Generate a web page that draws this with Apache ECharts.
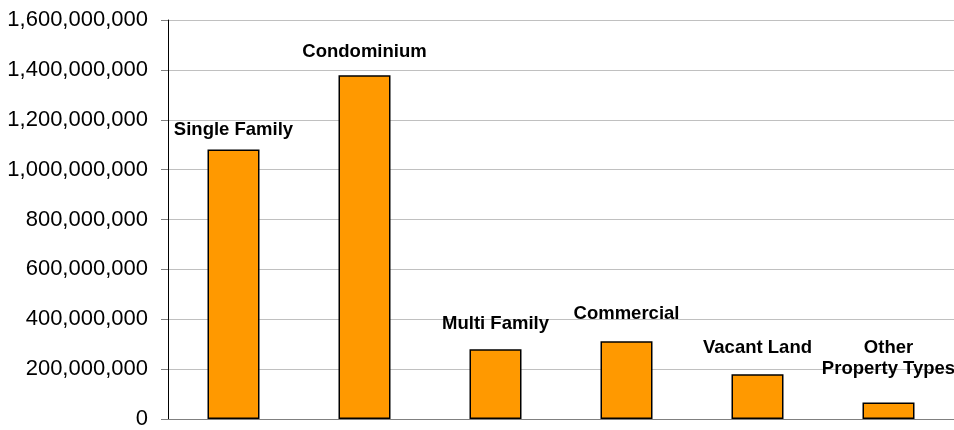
<!DOCTYPE html>
<html>
<head>
<meta charset="utf-8">
<script src="https://cdn.jsdelivr.net/npm/echarts@6/dist/echarts.min.js"></script>
<style>html,body{margin:0;padding:0;background:#fff;overflow:hidden}#c{width:954px;height:430px}</style>
</head>
<body>
<div id="c"></div>
<script>
const categories = ['Single Family', 'Condominium', 'Multi Family', 'Commercial', 'Vacant Land', 'Other\nProperty Types'];
const values = [1081000000, 1378000000, 280000000, 312000000, 179000000, 66000000];
const yTicks = { min: 0, max: 1600000000, interval: 200000000 };

const labelGap = [9, 13, 15, 17, 16, 23];

const chart = echarts.init(document.getElementById('c'), null, { renderer: 'canvas', width: 954, height: 430 });
chart.setOption({
  animation: false,
  backgroundColor: '#ffffff',
  grid: { left: 168, right: 0, top: 20, bottom: 7, containLabel: false },
  xAxis: {
    type: 'category',
    data: categories,
    axisLine: { show: true, lineStyle: { color: '#808080', width: 1 } },
    axisTick: { show: false },
    axisLabel: { show: false },
    splitLine: { show: false }
  },
  yAxis: {
    type: 'value',
    min: yTicks.min,
    max: yTicks.max,
    interval: yTicks.interval,
    axisLine: { show: true, lineStyle: { color: '#000000', width: 1 } },
    axisTick: { show: true, inside: false, length: 7, lineStyle: { color: '#808080' } },
    axisLabel: {
      margin: 20,
      color: '#000000',
      fontFamily: 'Liberation Sans, Arial, sans-serif',
      fontSize: 22,
      formatter: v => v.toLocaleString('en-US')
    },
    splitLine: { show: true, lineStyle: { color: '#c0c0c0', width: 1 } }
  },
  series: [{
    type: 'bar',
    barWidth: 52,
    data: values.map((v, i) => ({
      value: v,
      label: { distance: labelGap[i] }
    })),
    itemStyle: { color: '#FF9900', borderColor: '#000000', borderWidth: 1.5 },
    label: {
      show: true,
      position: 'top',
      formatter: p => p.name,
      color: '#000000',
      fontFamily: 'Liberation Sans, Arial, sans-serif',
      fontWeight: 'bold',
      fontSize: 18.5,
      lineHeight: 21,
      align: 'center'
    }
  }]
});
</script>
</body>
</html>
